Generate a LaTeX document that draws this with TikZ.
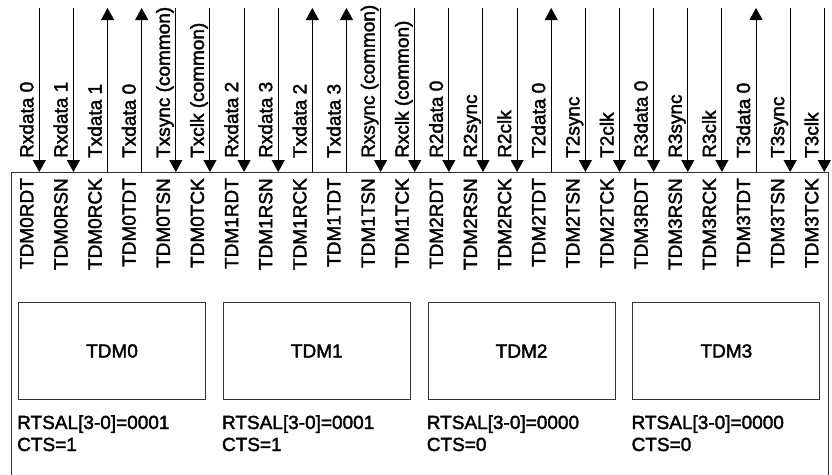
\documentclass[tikz,border=0pt]{standalone}
\usepackage{fontspec}
\setmainfont{Liberation Sans}
\newfontface\lblfont{Liberation Sans}[FakeBold=2]
\usetikzlibrary{arrows.meta}
\tikzset{
  sigin/.style={-{Triangle[width=13pt,length=12pt]},line width=1pt},
  sigout/.style={{Triangle[width=13pt,length=12pt]}-,line width=1pt},
  pinlabel/.style={rotate=90,inner sep=0pt,font=\lblfont\fontsize{19}{22}\selectfont},
  tdmbox/.style={draw=black!80,line width=1pt,anchor=north west,inner sep=0pt,
    minimum width=187pt,minimum height=97pt,font=\lblfont\fontsize{19}{22}\selectfont},
  cfgtext/.style={anchor=base west,inner sep=0pt,font=\lblfont\fontsize{19}{22}\selectfont}
}
\begin{document}
\begin{tikzpicture}[x=1pt,y=-1pt]
\useasboundingbox (0,0) rectangle (832,474);
\draw[line width=1pt,black!80] (11,480) -- (11,172) -- (828,172) -- (828,480);

\foreach \sig/\pin/\dir [count=\i from 0] in {
  Rxdata 0/TDM0RDT/sigin, Rxdata 1/TDM0RSN/sigin, Txdata 1/TDM0RCK/sigout,
  Txdata 0/TDM0TDT/sigout, Txsync (common)/TDM0TSN/sigin, Txclk (common)/TDM0TCK/sigin,
  Rxdata 2/TDM1RDT/sigin, Rxdata 3/TDM1RSN/sigin, Txdata 2/TDM1RCK/sigout,
  Txdata 3/TDM1TDT/sigout, Rxsync (common)/TDM1TSN/sigin, Rxclk (common)/TDM1TCK/sigin,
  R2data 0/TDM2RDT/sigin, R2sync/TDM2RSN/sigin, R2clk/TDM2RCK/sigin,
  T2data 0/TDM2TDT/sigout, T2sync/TDM2TSN/sigin, T2clk/TDM2TCK/sigin,
  R3data 0/TDM3RDT/sigin, R3sync/TDM3RSN/sigin, R3clk/TDM3RCK/sigin,
  T3data 0/TDM3TDT/sigout, T3sync/TDM3TSN/sigin, T3clk/TDM3TCK/sigin}{
  \coordinate (top\i) at (39.3+34.13*\i,8);
  \coordinate (pin\i) at (39.3+34.13*\i,172);
  \draw[\dir] (top\i) -- (pin\i);
  \node[pinlabel,anchor=base west] (sig\i) at (33.3+34.13*\i,158) {\sig};
  \node[pinlabel,anchor=base east] (name\i) at (33.3+34.13*\i,178) {\pin};
}

\foreach \k/\rts/\cts in {0/0001/1,1/0001/1,2/0000/0,3/0000/0}{
  \node[tdmbox] (tdm\k) at (18+204.8*\k,302) {TDM\k};
  \node[cfgtext] (rtsal\k) at (17+204.8*\k,429) {RTSAL[3-0]=\rts};
  \node[cfgtext] (cts\k) at (17+204.8*\k,451) {CTS=\cts};
}
\end{tikzpicture}
\end{document}
